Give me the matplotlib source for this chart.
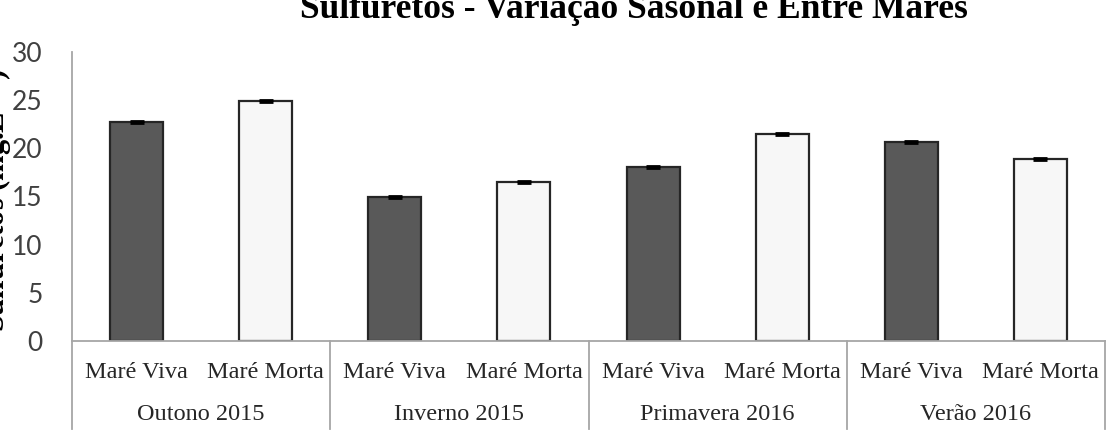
import matplotlib
matplotlib.use("Agg")
import matplotlib.pyplot as plt
import matplotlib.transforms as mtransforms

# data
groups = ["Outono 2015", "Inverno 2015", "Primavera 2016", "Verão 2016"]
tides = ["Maré Viva", "Maré Morta"]
values = [22.7, 24.9, 14.9, 16.5, 18.1, 21.5, 20.7, 18.9]
errors = [0.1, 0.1, 0.1, 0.1, 0.1, 0.1, 0.1, 0.1]

DARK, LIGHT, EDGE, AXC, TXT = "#595959", "#F7F7F7", "#262626", "#A6A6A6", "#404040"
W, H = 1116, 445

fig = plt.figure(figsize=(W / 100, H / 100), dpi=100)
fig.patch.set_facecolor("white")
ax = fig.add_axes([72 / W, 1 - 341 / H, (1105 - 72) / W, (341 - 52) / H])

x = list(range(len(values)))
colors = [DARK if i % 2 == 0 else LIGHT for i in x]
ax.bar(x, values, width=0.41, color=colors, edgecolor=EDGE, linewidth=1.6, zorder=2)
ax.errorbar(x, values, yerr=errors, fmt="none", ecolor="black", elinewidth=1.5,
            capsize=4.7, capthick=2, zorder=3)

ax.set_xlim(-0.5, len(values) - 0.5)
ax.set_ylim(0, 30)
ax.set_yticks(range(0, 31, 5))
ax.tick_params(axis="y", length=0, pad=21, labelsize=19, labelcolor=TXT)
for lab in ax.get_yticklabels():
    lab.set_fontfamily("Lato")
ax.set_xticks([])
for s in ("top", "right"):
    ax.spines[s].set_visible(False)
ax.spines["left"].set_visible(False)
ax.spines["bottom"].set_color(AXC)
ax.spines["bottom"].set_linewidth(1.3)

# category labels (two levels) and separators
trans = mtransforms.blended_transform_factory(ax.transData, ax.transAxes)
ah = 341 - 52
for i, v in enumerate(x):
    ax.text(v, -31 / ah, tides[i % 2], transform=trans, ha="center", va="center",
            fontsize=17.5, family="Liberation Serif", color="#262626")
for g, name in enumerate(groups):
    ax.text(2 * g + 0.5, -74 / ah, name, transform=trans, ha="center", va="center",
            fontsize=17.5, family="Liberation Serif", color="#262626")
for b in range(len(groups) + 1):
    ax.plot([2 * b - 0.5, 2 * b - 0.5], [0, -88 / ah], transform=trans, color=AXC,
            lw=1.3, clip_on=False)
ax.plot([-0.5, -0.5], [0, 1], transform=trans, color=AXC, lw=1.3, clip_on=False)

fig.text(634 / W, 1 - 18 / H, "Sulfuretos - Variação Sasonal e Entre Mares", ha="center",
         va="baseline", fontsize=25.5, fontweight="bold", family="Liberation Serif")
fig.text(15 / W, 1 - 200 / H, "Sulfuretos (mg.L$^{-1}$)", rotation=90, ha="right", va="center",
         fontsize=22, fontweight="bold", family="Liberation Serif", zorder=0)

fig.savefig("out.png", dpi=100)
